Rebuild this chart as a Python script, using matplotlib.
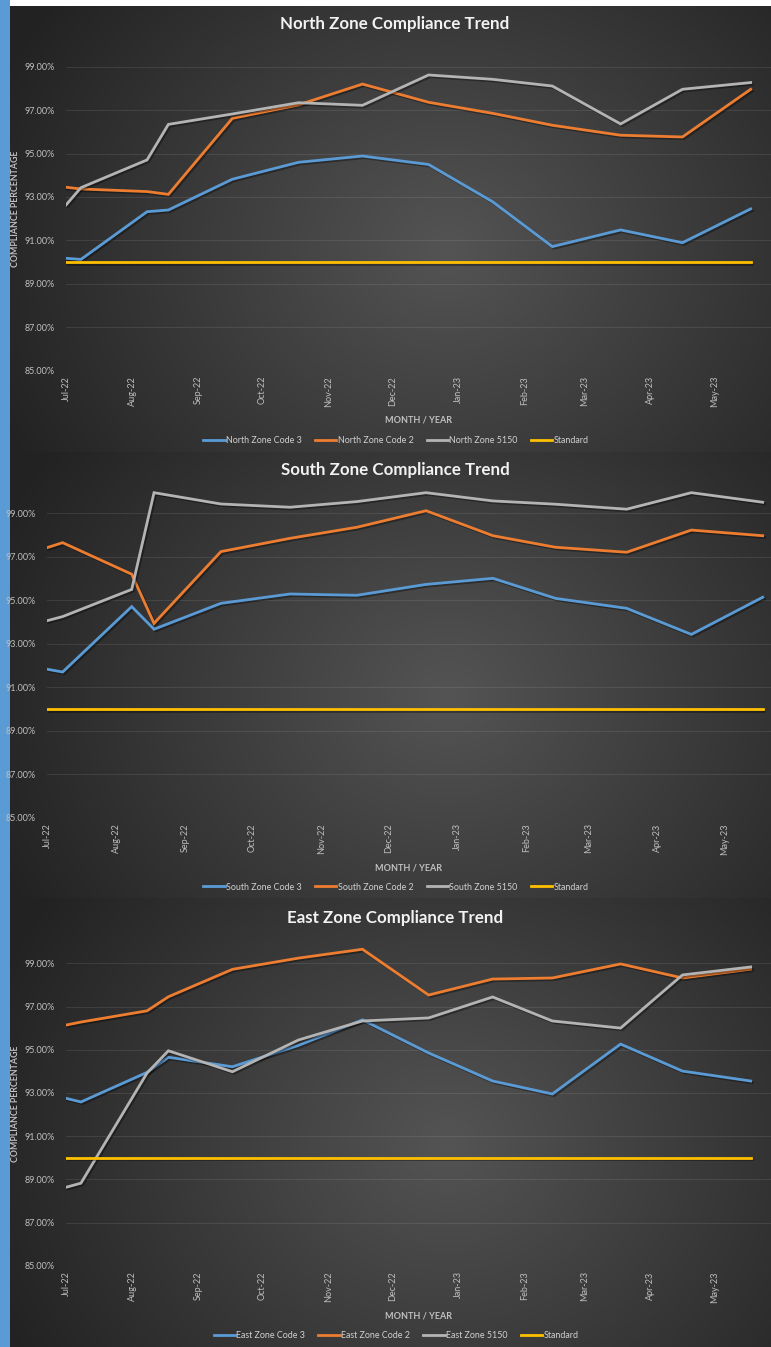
import numpy as np
import matplotlib
matplotlib.use("Agg")
import matplotlib.pyplot as plt
import matplotlib.dates as mdates
import matplotlib.patheffects as pe
from datetime import datetime, timedelta

# ---------------- data ----------------
dates = ["2022-07-01", "2022-07-08", "2022-08-08", "2022-08-18", "2022-09-17",
         "2022-10-18", "2022-11-17", "2022-12-18", "2023-01-17", "2023-02-14",
         "2023-03-18", "2023-04-16", "2023-05-18"]

north_code3 = [90.17, 90.12, 92.32, 92.40, 93.82, 94.60, 94.89, 94.50, 92.78, 90.71, 91.48, 90.89, 92.45]
north_code2 = [93.45, 93.37, 93.25, 93.12, 96.63, 97.25, 98.21, 97.37, 96.86, 96.31, 95.85, 95.77, 97.97]
north_5150 = [92.63, 93.43, 94.71, 96.35, 96.83, 97.35, 97.23, 98.63, 98.43, 98.12, 96.37, 97.97, 98.28]

south_code3 = [91.83, 91.70, 94.71, 93.67, 94.86, 95.29, 95.23, 95.73, 96.01, 95.09, 94.63, 93.43, 95.14]
south_code2 = [97.42, 97.65, 96.20, 93.94, 97.24, 97.85, 98.36, 99.12, 97.97, 97.44, 97.21, 98.23, 97.97]
south_5150 = [94.06, 94.25, 95.50, 99.95, 99.43, 99.28, 99.54, 99.95, 99.57, 99.42, 99.19, 99.95, 99.51]

east_code3 = [92.75, 92.58, 93.95, 94.65, 94.21, 95.20, 96.38, 94.85, 93.55, 92.95, 95.26, 94.01, 93.55]
east_code2 = [96.14, 96.28, 96.80, 97.45, 98.72, 99.24, 99.65, 97.53, 98.27, 98.32, 98.97, 98.32, 98.73]
east_5150 = [88.63, 88.82, 93.92, 94.95, 93.98, 95.45, 96.33, 96.47, 97.44, 96.33, 96.00, 98.46, 98.83]

standard = [90.0] * len(dates)

y_ticks = [85, 87, 89, 91, 93, 95, 97, 99]
month_ticks = ["2022-07-01", "2022-08-01", "2022-09-01", "2022-10-01", "2022-11-01",
               "2022-12-01", "2023-01-01", "2023-02-01", "2023-03-01", "2023-04-01", "2023-05-01"]

zones = [
    ("North", north_code3, north_code2, north_5150),
    ("South", south_code3, south_code2, south_5150),
    ("East", east_code3, east_code2, east_5150),
]

# ---------------- styling ----------------
W, H = 771, 1347
plt.rcParams['font.family'] = ['Lato', 'DejaVu Sans']
fig = plt.figure(figsize=(W / 100, H / 100), dpi=100)

# background: radial gradients per panel
bg = np.zeros((H, W, 3))
yy, xx = np.mgrid[0:H, 0:W]
panels = [(6, 452), (452, 898), (898, H)]
for (p0, p1) in panels:
    cy = (p0 + p1) / 2 + 20
    cx = 0.58 * W
    d = np.sqrt(((xx - cx) / (0.64 * W)) ** 2 + ((yy - cy) / (0.95 * (p1 - p0))) ** 2)
    v = 84 - 50 * np.clip(d, 0, 1)
    mask = (yy >= p0) & (yy < p1)
    for c in range(3):
        bg[..., c][mask] = v[mask] / 255.0
bg[0:6, :, :] = 1.0
bg[:, 0:10, :] = np.array([91, 155, 213]) / 255.0
bgax = fig.add_axes([0, 0, 1, 1])
bgax.imshow(bg, aspect='auto', interpolation='bilinear')
bgax.axis('off')

colors = ["#5B9BD5", "#ED7D31", "#B4B4B4", "#FFC000"]
tick_col = "#BFBFBF"

# axis geometry (pixels): left, px_per_day, y of 90%, px per %
geo = [
    dict(left=66, ppd=2.133, y90=262.0, ppp=21.67, title_y=24, legend_y=441, ylabel=True),
    dict(left=47, ppd=2.2296, y90=709.0, ppp=21.74, title_y=470, legend_y=887, ylabel=False),
    dict(left=66, ppd=2.133, y90=1157.7, ppp=21.6, title_y=918, legend_y=1336, ylabel=True),
]

d0 = datetime(2022, 7, 1)
xdates = [datetime.strptime(s, "%Y-%m-%d") for s in dates]
mt = [datetime.strptime(s, "%Y-%m-%d") for s in month_ticks]
ytop = 100.5

shadow = [pe.SimpleLineShadow(offset=(1.2, -1.2), alpha=0.35, shadow_color='black'), pe.Normal()]

for (zone, c3, c2, c5150), g in zip(zones, geo):
    ybot_px = g['y90'] + 5 * g['ppp']
    ytop_px = g['y90'] - (ytop - 90) * g['ppp']
    span_days = (W - g['left']) / g['ppd']
    ax = fig.add_axes([g['left'] / W, 1 - ybot_px / H, (W - g['left']) / W, (ybot_px - ytop_px) / H])
    ax.set_facecolor('none')
    for s in ax.spines.values():
        s.set_visible(False)
    ax.set_xlim(d0, d0 + timedelta(days=span_days))
    ax.set_ylim(85, ytop)
    ax.set_yticks(y_ticks)
    ax.set_yticklabels([f"{t:.2f}%" for t in y_ticks])
    ax.grid(axis='y', color='#FFFFFF', alpha=0.09, lw=0.8)
    ax.set_axisbelow(True)
    ax.set_xticks(mt)
    ax.xaxis.set_major_formatter(mdates.DateFormatter("%b-%y"))
    ax.tick_params(axis='x', labelrotation=90, length=0, pad=4, labelsize=6.5, labelcolor=tick_col)
    ax.tick_params(axis='y', length=0, pad=8, labelsize=6.5, labelcolor=tick_col)

    labels = [f"{zone} Zone Code 3", f"{zone} Zone Code 2", f"{zone} Zone 5150", "Standard"]
    series = [c3, c2, c5150, standard]
    handles = []
    for vals, col, lab in zip(series, colors, labels):
        ln, = ax.plot(xdates, vals, color=col, lw=2.0, label=lab, solid_joinstyle='miter',
                      path_effects=shadow)
        handles.append(ln)

    ax.set_xlabel("MONTH / YEAR", fontsize=6.5, fontweight='bold', color=tick_col, labelpad=6)
    if g['ylabel']:
        yc = 1 - ((ybot_px + ytop_px) / 2 + 6) / H
        fig.text(16 / W, yc, "COMPLIANCE PERCENTAGE", rotation=90, ha='center', va='center',
                 fontsize=6.3, fontweight='bold', color=tick_col)
    fig.text(395 / W, 1 - g['title_y'] / H, f"{zone} Zone Compliance Trend", ha='center', va='center',
             fontsize=12.2, fontweight='bold', color='#F2F2F2')
    leg = fig.legend(handles=handles, loc='center', bbox_to_anchor=(396 / W, 1 - g['legend_y'] / H),
                     ncol=4, frameon=False, fontsize=6.4, handlelength=2.4, handletextpad=0.15,
                     columnspacing=1.5)
    for t in leg.get_texts():
        t.set_color('#D0D0D0')
    for l in leg.get_lines():
        l.set_path_effects([])
        l.set_linewidth(2.0)

fig.savefig("out.png", dpi=100)
